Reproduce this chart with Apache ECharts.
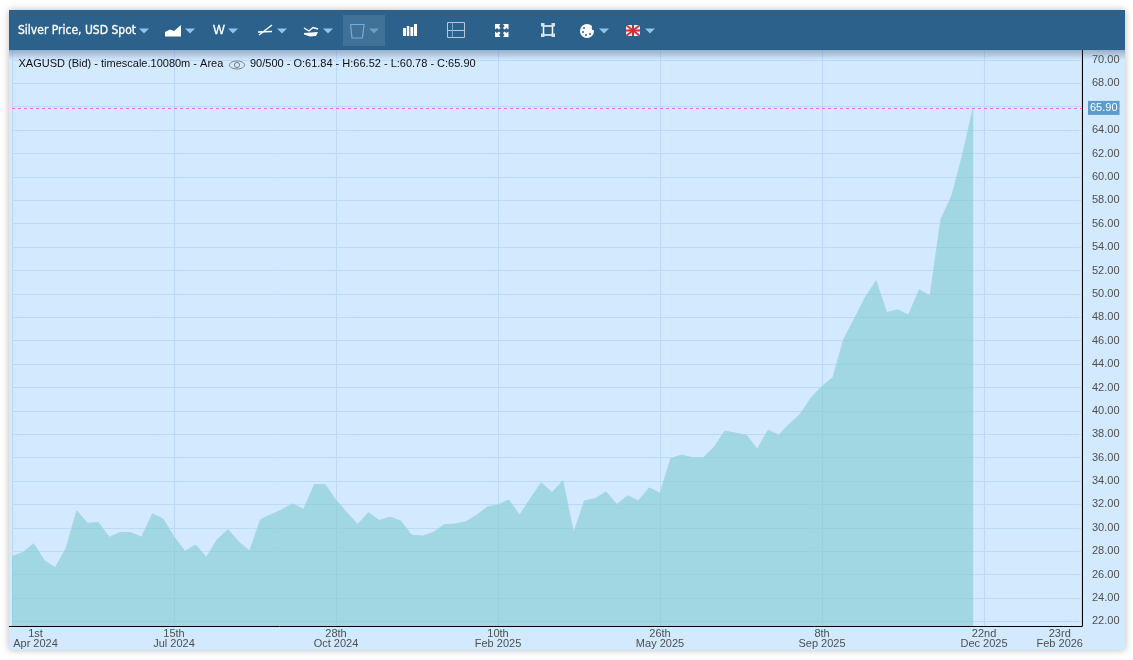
<!DOCTYPE html>
<html><head><meta charset="utf-8">
<style>
html,body{margin:0;padding:0;background:#fff;width:1133px;height:660px;overflow:hidden}
#panel{position:absolute;left:9px;top:10px;width:1116px;height:640px;background:#d3e9fe;box-shadow:0 0 7px rgba(0,0,0,.28)}
#chart{position:absolute;left:0;top:0;width:1133px;height:660px}
</style>
<script src="https://cdn.jsdelivr.net/npm/echarts@6/dist/echarts.min.js"></script>
</head><body><div id="panel"></div><div id="chart"></div>
<script>
const closes = [27.56,27.9,28.64,27.2,26.6,28.25,31.47,30.4,30.45,29.2,29.6,29.6,29.2,31.2,30.75,29.25,28.0,28.53,27.48,29.0,
 29.85,28.8,28.02,30.7,31.15,31.55,32.05,31.58,33.7,33.7,32.37,31.3,30.3,31.3,30.64,30.92,30.58,29.38,29.3,29.6,
 30.27,30.33,30.52,31.07,31.78,31.98,32.38,31.1,32.5,33.86,33.03,34.03,29.58,32.3,32.5,33.08,32.0,32.75,32.32,33.43,
 32.94,35.94,36.22,36.0,36.0,36.88,38.27,38.1,37.93,36.73,38.35,37.93,38.9,39.73,41.15,42.1,42.85,46.1,47.9,49.7,
 51.12,48.4,48.65,48.2,50.35,49.85,56.37,58.36,61.85,65.9];
const xTickWeeks = [0,15,30,45,60,75,90,99];
const xTickLabels = [['1st','Apr 2024'],['15th','Jul 2024'],['28th','Oct 2024'],['10th','Feb 2025'],['26th','May 2025'],['8th','Sep 2025'],['22nd','Dec 2025'],['23rd','Feb 2026']];
const yTicks = [22,24,26,28,30,32,34,36,38,40,42,44,46,48,50,52,54,56,58,60,62,64,66,68,70];
const titleText = 'Silver Price, USD Spot';
const infoLeft = 'XAGUSD (Bid) - timescale.10080m - Area';
const infoRight = '90/500 - O:61.84 - H:66.52 - L:60.78 - C:65.90';

const W='#ffffff', CARET='#8cc6ee', BAR='#2b618b';
const g=[];
const caret=(x,o)=>g.push({type:'polygon',z:20,shape:{points:[[x,28.5],[x+10,28.5],[x+5,33.5]]},style:{fill:CARET,opacity:o||1}});
const line=(pts,s,lw,o)=>g.push({type:'polyline',z:21,shape:{points:pts},style:{stroke:s||W,fill:null,lineWidth:lw||1,opacity:o||1}});
const box=(x,y,w,h,f,z)=>g.push({type:'rect',z:z||21,shape:{x,y,width:w,height:h},style:{fill:f||W}});
// toolbar
g.push({type:'rect',z:18,shape:{x:9,y:50,width:1116,height:10},style:{fill:{type:'linear',x:0,y:0,x2:0,y2:1,colorStops:[{offset:0,color:'rgba(60,80,110,.38)'},{offset:1,color:'rgba(60,80,110,0)'}]}}});
box(9,10,1116,40,BAR,19);
g.push({type:'text',z:21,style:{x:18,y:31,text:titleText,fill:W,stroke:W,lineWidth:.3,font:'12px "DejaVu Sans Condensed"',textVerticalAlign:'middle'}});
caret(139);
g.push({type:'polygon',z:21,shape:{points:[[165,36.5],[165,32],[170,29.5],[174,31],[181,25],[181,36.5]]},style:{fill:W}});
caret(185);
g.push({type:'text',z:21,style:{x:213,y:31,text:'W',fill:W,font:'12.5px "Liberation Sans"',textVerticalAlign:'middle',stroke:W,lineWidth:.3}});
caret(228);
line([[259,35],[272,25]],W,1.4);line([[258,32],[272,31.5]],W,1.4);
caret(277);
line([[304,28],[309,31],[313,27.5],[318,29]],W,1.4);
g.push({type:'polygon',z:21,shape:{points:[[304,33],[318,32],[316,36],[310,36.5],[304,34.5]]},style:{fill:W}});
caret(323);
g.push({type:'rect',z:20,shape:{x:343,y:15,width:42,height:31},style:{fill:'rgba(255,255,255,.1)'}});
line([[350.5,24.5],[364,24.5],[362.5,38],[352,38],[350.5,24.5]],'#6fb0dc',1.2);
caret(369,.55);
[[403,3,28],[406.8,2.5,26],[410.4,2.8,27],[414,3,24]].forEach(b=>box(b[0],b[2],b[1],36-b[2],W));
g.push({type:'rect',z:21,shape:{x:447.5,y:22.5,width:17,height:15},style:{fill:null,stroke:'#b4c9dc',lineWidth:1}});
line([[447.5,30.5],[464.5,30.5]],'#b4c9dc');line([[452.5,22.5],[452.5,37.5]],'#6fa9d4');
[[495,24,1,1],[508.5,24,-1,1],[495,37,1,-1],[508.5,37,-1,-1]].forEach(c=>g.push({type:'polygon',z:21,shape:{points:[[0,0],[5.5,0],[4,2],[5.5,4],[4,5.5],[2,4],[0,5.5]].map(p=>[c[0]+p[0]*c[2],c[1]+p[1]*c[3]])},style:{fill:W}}));
g.push({type:'rect',z:21,shape:{x:543.5,y:26,width:9,height:9},style:{fill:null,stroke:W,lineWidth:1.5}});
[[541,23],[551.5,23],[541,33.5],[551.5,33.5]].forEach(c=>box(c[0],c[1],3.5,3.5,'#cfe3f2'));
g.push({type:'circle',z:21,shape:{cx:587,cy:31,r:7},style:{fill:W}});
[[584,28],[583,32],[586,35],[590,34]].forEach(c=>g.push({type:'circle',z:22,shape:{cx:c[0],cy:c[1],r:1},style:{fill:BAR}}));
g.push({type:'circle',z:22,shape:{cx:594,cy:28,r:2.4},style:{fill:BAR}});
caret(599);
box(626,25,14,11,'#e8edf4');
line([[626,25],[640,36]],'#c8303a',1.6);line([[640,25],[626,36]],'#c8303a',1.6);
box(632,25,2,11,'#c8303a',22);box(626,29.5,14,2,'#c8303a',22);
caret(645);
// info line
g.push({type:'text',z:21,style:{x:18.5,y:64,text:infoLeft,fill:'#111',font:'11px "Liberation Sans"',textVerticalAlign:'middle'}});
g.push({type:'ellipse',z:21,shape:{cx:237,cy:65,rx:7.5,ry:4},style:{fill:null,stroke:'#666',lineWidth:.8}});
g.push({type:'circle',z:21,shape:{cx:237,cy:65,r:2.6},style:{fill:null,stroke:'#666',lineWidth:.8}});
g.push({type:'text',z:21,style:{x:250,y:64,text:infoRight,fill:'#111',font:'11px "Liberation Sans"',textVerticalAlign:'middle'}});
// short extension of the time axis line to the panel edge
box(9,626,3,1,'#000',15);

const chart=echarts.init(document.getElementById('chart'),null,{renderer:'canvas'});
const labelStyle={fontFamily:'Liberation Sans',fontSize:11,lineHeight:10,color:'#4f4f4f',align:'center'};
chart.setOption({
 animation:false,
 backgroundColor:'transparent',
 graphic:{elements:g},
 grid:{left:12,right:51,top:50,bottom:34,containLabel:false},
 xAxis:{type:'value',min:0,max:99.07,
  axisLine:{show:true,onZero:false,lineStyle:{color:'#000',width:1}},
  axisTick:{show:false,customValues:xTickWeeks},
  splitLine:{show:true,lineStyle:{color:'#bcd9fb',width:1}},
  axisLabel:{customValues:xTickWeeks,margin:3,alignMinLabel:'left',alignMaxLabel:'right',
   formatter:v=>{const i=xTickWeeks.indexOf(v);const s=i===xTickWeeks.length-1?'b':'a';return '{'+s+'|'+xTickLabels[i][0]+'}\n{'+s+'|'+xTickLabels[i][1]+'}';},
   rich:{a:{...labelStyle,width:47},b:{...labelStyle,width:43}}}},
 yAxis:{type:'value',position:'right',min:21.61,max:70.85,
  axisLine:{show:true,onZero:false,lineStyle:{color:'#000',width:1}},
  axisTick:{show:false,customValues:yTicks},
  splitLine:{show:true,lineStyle:{color:'#bcd9fb',width:1}},
  axisLabel:{customValues:yTicks,margin:10,color:'#4f4f4f',fontFamily:'Liberation Sans',fontSize:11,formatter:v=>v.toFixed(2)}},
 series:[{type:'line',name:'XAGUSD',data:closes.map((v,i)=>[i,v]),symbol:'none',smooth:false,
  lineStyle:{color:'#a8d6e0',width:1},
  areaStyle:{color:'rgba(126,204,207,.6)',opacity:1,origin:'start'},
  markLine:{silent:true,symbol:'none',animation:false,
   data:[{yAxis:closes[closes.length-1]}],
   lineStyle:{color:'#ee66ee',type:[3,3],width:1},
   label:{position:'end',distance:6,formatter:p=>p.value.toFixed(2),color:'#fff',fontFamily:'Liberation Sans',fontSize:11,lineHeight:11,backgroundColor:'#5b9bcd',padding:[2,2,1,2]}}}]
});
</script></body></html>
